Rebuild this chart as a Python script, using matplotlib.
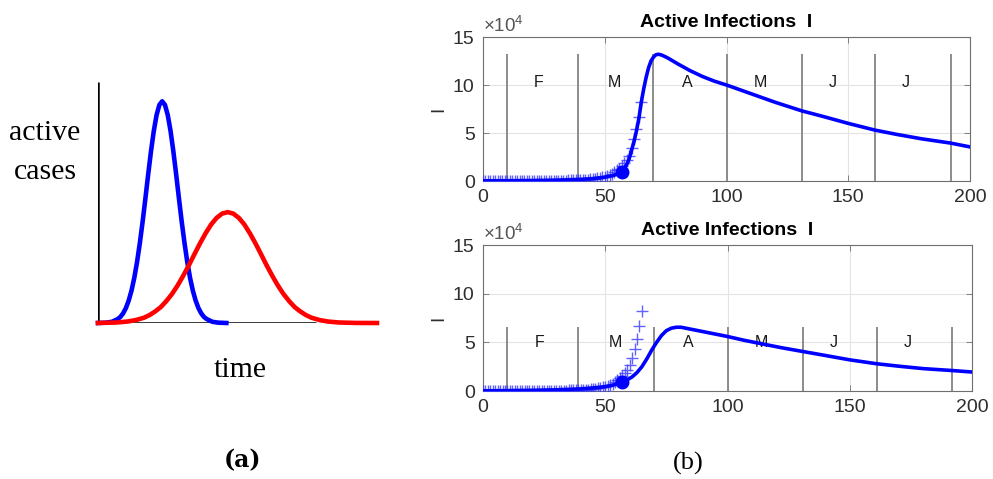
import matplotlib
matplotlib.use("Agg")
import matplotlib.pyplot as plt

# ---------------- data ----------------
# panel (a): schematic curves (arbitrary units, 0..100)
blue_x = [0, 3, 5, 7, 8, 9, 10, 11, 12, 13, 14, 15, 16, 17, 18, 19, 20, 21, 22, 23,
          24, 25, 26, 27, 28, 29, 30, 31, 32, 33, 34, 35, 36, 37, 38, 39, 41, 43, 46]
blue_y = [0.0, 0.15, 0.5, 1.6, 2.5, 4.0, 6.2, 9.3, 13.4, 18.7, 25.3, 33.2, 42.1, 51.8, 61.8, 71.3, 79.7, 86.3, 90.5, 92.0,
          90.5, 86.3, 79.7, 71.3, 61.8, 51.8, 42.1, 33.2, 25.3, 18.7, 13.4, 9.3, 6.2, 4.0, 2.5, 1.6, 0.5, 0.15, 0.0]
red_x = [0, 6.5, 10.5, 13.5, 16.5, 18.5, 20.5, 22.5, 24.5, 26.5, 28.5, 30.5, 32.5, 34.5, 36.5, 38.5, 40.5, 42.5, 44.5,
         46.5, 48.5, 50.5, 52.5, 54.5, 56.5, 58.5, 60.5, 62.5, 64.5, 66.5, 68.5, 70.5, 72.5, 74.5, 76.5, 79.5, 82.5,
         86.5, 92.5, 100]
red_y = [0.0, 0.2, 0.6, 1.2, 2.2, 3.3, 4.8, 6.6, 9.1, 12.0, 15.5, 19.5, 23.8, 28.4, 32.9, 37.1, 40.8, 43.6, 45.4,
         46.0, 45.4, 43.6, 40.8, 37.1, 32.9, 28.4, 23.8, 19.5, 15.5, 12.0, 9.1, 6.6, 4.8, 3.3, 2.2, 1.2, 0.6,
         0.2, 0.03, 0.0]

# panel (b): active infections (x 10^4)
top_days = [0, 10, 20, 30, 40, 45, 50, 53, 55, 57, 58, 59, 60, 61, 62, 63, 64, 65, 66, 67, 68, 69, 70, 71, 72,
            73, 74, 76, 78, 80, 85, 90, 95, 100, 110, 120, 131, 140, 150, 161, 170, 180, 192, 200]
top_I = [0.02, 0.03, 0.05, 0.09, 0.17, 0.25, 0.4, 0.55, 0.7, 1.0, 1.3, 1.7, 2.3, 3.2, 4.1, 5.2, 6.5, 8.2, 9.6,
         10.8, 11.8, 12.5, 12.9, 13.15, 13.2, 13.15, 13.05, 12.8, 12.5, 12.2, 11.5, 10.9, 10.4, 10.0, 9.1, 8.2,
         7.3, 6.7, 6.0, 5.3, 4.85, 4.4, 3.95, 3.55]

bot_days = [0, 10, 20, 30, 40, 45, 50, 53, 55, 57, 59, 61, 63, 65, 67, 69, 71, 73, 75, 77, 79, 81, 83, 86, 90,
            95, 100, 107, 114, 122, 131, 140, 150, 161, 170, 180, 192, 200]
bot_I = [0.02, 0.04, 0.07, 0.12, 0.22, 0.32, 0.45, 0.6, 0.75, 0.92, 1.15, 1.45, 1.9, 2.5, 3.3, 4.2, 5.0, 5.7,
         6.2, 6.45, 6.55, 6.55, 6.45, 6.3, 6.1, 5.85, 5.6, 5.2, 4.85, 4.45, 4.05, 3.65, 3.2, 2.8, 2.55, 2.3,
         2.1, 1.95]

obs_days = list(range(0, 66))
obs_I = [0.0005, 0.0006, 0.0008, 0.0012, 0.0015, 0.002, 0.003, 0.004, 0.005, 0.006,
         0.007, 0.008, 0.009, 0.01, 0.01, 0.011, 0.012, 0.012, 0.013, 0.013,
         0.014, 0.014, 0.015, 0.015, 0.016, 0.017, 0.018, 0.02, 0.022, 0.025,
         0.03, 0.035, 0.04, 0.045, 0.05, 0.055, 0.06, 0.07, 0.08, 0.09,
         0.1, 0.11, 0.13, 0.15, 0.17, 0.2, 0.23, 0.27, 0.32, 0.38,
         0.42, 0.5, 0.62, 0.75, 0.9, 1.1, 1.3, 1.55, 1.86, 2.2,
         2.65, 3.4, 4.36, 5.38, 6.63, 8.27]

start_day = [57, 57]
start_I = [0.9, 0.9]

month_bounds = [10, 39, 70, 100, 131, 161, 192]
month_labels = ["F", "M", "A", "M", "J", "J"]
month_label_x = [23, 54, 84, 114, 143.5, 173.5]
month_label_y = [10.3, 5.0]

x_ticks = [0, 50, 100, 150, 200]
y_ticks = [0, 5, 10, 15]

# ---------------- figure ----------------
W, H = 993, 479
fig = plt.figure(figsize=(W / 100, H / 100), dpi=100)

def fx(px):
    return px / W

def fy(py):
    return 1 - py / H

# ---- panel (a) ----
axa = fig.add_axes([fx(98), fy(323), (377 - 98) / W, (323 - 82) / H])
axa.set_xlim(0, 100)
axa.set_ylim(0, 100)
axa.axis("off")
axa.plot([0, 0], [0, 100], color="black", lw=1.8, solid_capstyle="butt", zorder=1)
axa.plot([0, 78], [0, 0], color="black", lw=1.8, solid_capstyle="butt", zorder=1)
axa.plot(blue_x, blue_y, color="#0000ff", lw=3.3, zorder=2, clip_on=False)
axa.plot(red_x, red_y, color="#ff0000", lw=3.3, zorder=3, clip_on=False)

serif = ["Liberation Serif", "DejaVu Serif"]
fig.text(fx(45), fy(133), "active", family=serif, fontsize=21.5, ha="center", va="center")
fig.text(fx(45), fy(172), "cases", family=serif, fontsize=21.5, ha="center", va="center")
fig.text(fx(240), fy(370), "time", family=serif, fontsize=21.5, ha="center", va="center")
fig.text(fx(242), fy(460), "(a)", family=["DejaVu Serif"], fontweight="bold", fontsize=17,
         ha="center", va="center")
fig.text(fx(688), fy(463), "(b)", family=serif, fontsize=19, ha="center", va="center")

# ---- panel (b) ----
plt.rcParams["mathtext.fontset"] = "custom"
plt.rcParams["mathtext.rm"] = "Liberation Sans"
plt.rcParams["mathtext.it"] = "Liberation Sans"
sans = ["Liberation Sans", "DejaVu Sans"]
tick_col = "#2e2e2e"

def panel(rect, days, vals, idx):
    ax = fig.add_axes(rect)
    ax.set_xlim(0, 200)
    ax.set_ylim(0, 15)
    ax.set_xticks(x_ticks)
    ax.set_yticks(y_ticks)
    ax.grid(True, color="#e3e3e3", lw=0.8)
    ax.set_axisbelow(True)
    for s in ax.spines.values():
        s.set_color("#6e6e6e")
        s.set_linewidth(0.8)
    ax.tick_params(direction="in", top=True, right=True, length=4, width=0.6, color="#6e6e6e",
                   labelcolor=tick_col, labelsize=14, pad=6)
    for lab in ax.get_xticklabels() + ax.get_yticklabels():
        lab.set_family(sans)
    h = max(vals)
    ax.vlines(month_bounds, 0, h, color="#8c8c8c", lw=1.4, zorder=2)
    for lx, lt in zip(month_label_x, month_labels):
        ax.text(lx, month_label_y[idx], lt, family=sans, fontsize=11.5, color="#1a1a1a",
                ha="center", va="center", zorder=3)
    ax.plot(obs_days, obs_I, linestyle="none", marker="+", markersize=8, mew=1.0,
            color="#3a3aff", alpha=0.8, zorder=3)
    ax.plot(days, vals, color="#0000ff", lw=2.6, zorder=4)
    ax.plot(start_day[idx], start_I[idx], "o", color="#0000ff", markersize=9, zorder=5)
    ax.set_title("Active Infections  I", family=sans, fontweight="bold", fontsize=14,
                 color="black", pad=7)
    ax.set_ylabel("I", family=sans, fontsize=13.5, color=tick_col, labelpad=4)
    ax.text(0.0, 1.005, r"$\times10^{4}$", transform=ax.transAxes, family=sans, fontsize=13.5,
            color="#555555", ha="left", va="bottom")
    return ax

panel([fx(483), fy(181), (970 - 483) / W, (181 - 37) / H], top_days, top_I, 0)
panel([fx(483), fy(391), (972 - 483) / W, (391 - 245) / H], bot_days, bot_I, 1)

fig.savefig("out.png", dpi=100)
